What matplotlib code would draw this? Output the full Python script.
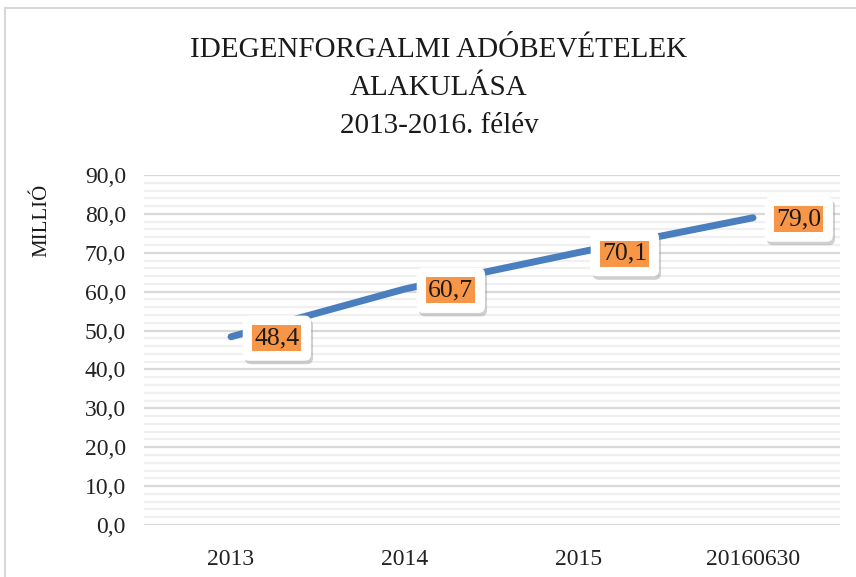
import matplotlib.pyplot as plt
import matplotlib.patheffects as pe
from matplotlib.patches import Rectangle
from matplotlib.ticker import MultipleLocator, FuncFormatter

# data
categories = ['2013', '2014', '2015', '20160630']
values = [48.4, 60.7, 70.1, 79.0]
title_lines = ['IDEGENFORGALMI ADÓBEVÉTELEK', 'ALAKULÁSA', '2013-2016. félév']
ylabel = 'MILLIÓ'

serif = ['Liberation Serif', 'DejaVu Serif']
plt.rcParams['font.family'] = serif

fig = plt.figure(figsize=(8.56, 5.77), dpi=100)
fig.patches.append(Rectangle((5/856, -0.1), 1.2, 1 - 8/577 + 0.1, transform=fig.transFigure,
                             fill=False, edgecolor='#D9D9D9', lw=1.5))

ax = fig.add_axes([144/856, 1 - 525/577, 696/856, 350/577])
x = list(range(len(categories)))
ax.plot(x, values, color='#4A7EBF', lw=5, solid_capstyle='round', zorder=3)

ax.set_xlim(-0.5, len(categories) - 0.5)
ax.set_ylim(0, 90)
ax.yaxis.set_major_locator(MultipleLocator(10))
ax.yaxis.set_minor_locator(MultipleLocator(2))
ax.yaxis.set_major_formatter(FuncFormatter(lambda v, p: f'{v:.1f}'.replace('.', ',')))
ax.grid(True, which='major', axis='y', color='#D9D9D9', lw=1.6, zorder=0)
ax.grid(True, which='minor', axis='y', color='#F0F0F0', lw=1.6, zorder=0)
ax.set_axisbelow(True)
for s in ax.spines.values():
    s.set_visible(False)
ax.set_xticks(x)
ax.set_xticklabels(categories)
ax.tick_params(axis='both', which='both', length=0, labelsize=17, colors='#222222')
ax.tick_params(axis='x', pad=17)
ax.tick_params(axis='y', pad=13)

# data labels: white rounded box with shadow, orange inner box
off = (33, -1)  # points, about 46 px right of the point
for xi, v in zip(x, values):
    lbl = f'{v:.1f}'.replace('.', ',')
    t1 = ax.annotate(lbl, (xi, v), xytext=off, textcoords='offset points', ha='center',
                     va='center', fontsize=18.5, color='none', zorder=4,
                     bbox=dict(boxstyle='round,pad=0.45,rounding_size=0.25', fc='white', ec='none'))
    t1.get_bbox_patch().set_path_effects([pe.withSimplePatchShadow(offset=(1.5, -2.5), shadow_rgbFace='#999999', alpha=0.45)])
    ax.annotate(lbl, (xi, v), xytext=off, textcoords='offset points', ha='center',
                va='center', fontsize=18.5, color='#1a1a1a', zorder=5,
                bbox=dict(boxstyle='square,pad=0.08', fc='#F79646', ec='none'))

for i, line in enumerate(title_lines):
    fig.text(439/856, 1 - (50 + i*38)/577, line, ha='center', va='center', fontsize=21, color='#1a1a1a')
fig.text(42/856, 1 - 220/577, ylabel, rotation=90, ha='center', va='center', fontsize=15, color='#1a1a1a')

fig.savefig('out.png', dpi=100)
